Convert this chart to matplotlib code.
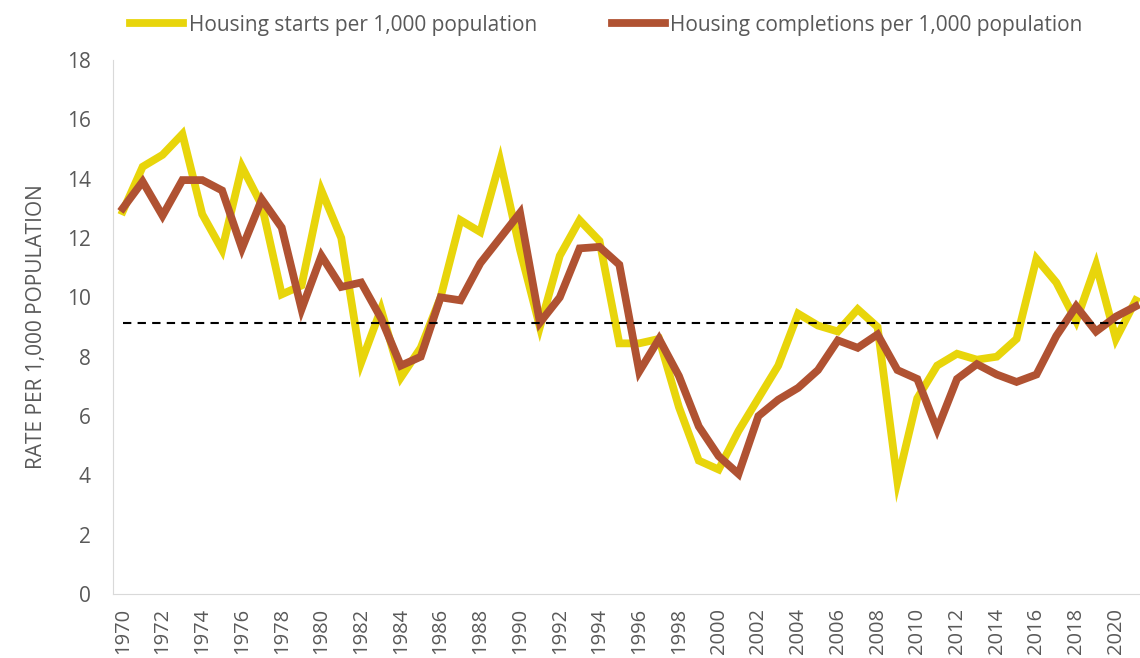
import numpy as np
import matplotlib.pyplot as plt

years = list(range(1970, 2022))

starts = [12.9, 14.4, 14.8, 15.5, 12.8, 11.6, 14.4, 13.1, 10.1, 10.4,
          13.6, 12.0, 7.8, 9.6, 7.3, 8.3, 10.0, 12.6, 12.2, 14.6,
          11.6, 9.0, 11.4, 12.6, 11.9, 8.45, 8.45, 8.6, 6.3, 4.5,
          4.2, 5.5, 6.6, 7.7, 9.45, 9.05, 8.85, 9.6, 9.0, 3.8,
          6.6, 7.7, 8.1, 7.9, 8.0, 8.6, 11.3, 10.5, 9.2, 11.1,
          8.6, 9.9]

completions = [13.0, 13.9, 12.75, 13.95, 13.95, 13.6, 11.65, 13.3, 12.35, 9.6,
               11.4, 10.35, 10.5, 9.3, 7.7, 8.0, 10.0, 9.9, 11.15, 12.0,
               12.85, 9.15, 10.0, 11.65, 11.7, 11.1, 7.5, 8.6, 7.35, 5.65,
               4.65, 4.05, 6.0, 6.55, 6.95, 7.55, 8.55, 8.3, 8.75, 7.55,
               7.25, 5.55, 7.25, 7.75, 7.4, 7.15, 7.4, 8.7, 9.7, 8.85,
               9.35, 9.7]

average = 9.15
avg_span = (1970, 2020.5)

labels = ['Housing starts per 1,000 population',
          'Housing completions per 1,000 population']
colors = ['#E8D50B', '#B05232']

plt.rcParams['font.family'] = ['Open Sans', 'DejaVu Sans']

fig = plt.figure(figsize=(11.4, 6.58), dpi=100)
ax = fig.add_axes([0.099, 0.097, 0.906, 0.812])

ax.plot(years, starts, color=colors[0], lw=5.6, label=labels[0], solid_joinstyle='miter')
ax.plot(years, completions, color=colors[1], lw=5.6, label=labels[1], solid_joinstyle='miter')
ax.hlines(average, avg_span[0], avg_span[1], colors='black', linestyles=(0, (4, 3)), lw=1.5)

ax.set_ylim(0, 18)
ax.set_yticks(np.arange(0, 19, 2))
ax.set_xlim(1969.5, 2021.5)
ax.set_xticks(years[::2])
ax.set_xticklabels([str(y) for y in years[::2]], rotation=90)

for s in ['top', 'right']:
    ax.spines[s].set_visible(False)
for s in ['left', 'bottom']:
    ax.spines[s].set_color('#D9D9D9')
ax.tick_params(axis='both', length=0, colors='#595959')
ax.tick_params(axis='y', labelsize=15, pad=16)
ax.tick_params(axis='x', labelsize=14.5, pad=10)

ax.set_ylabel('RATE PER 1,000 POPULATION', fontsize=15, color='#595959', labelpad=14)

fig.legend(loc='center', bbox_to_anchor=(0.532, 0.962), ncol=2, frameon=False,
           fontsize=15, labelcolor='#595959', handlelength=2.55, handletextpad=0.25,
           columnspacing=3.6)

fig.savefig('out.png', dpi=100)
